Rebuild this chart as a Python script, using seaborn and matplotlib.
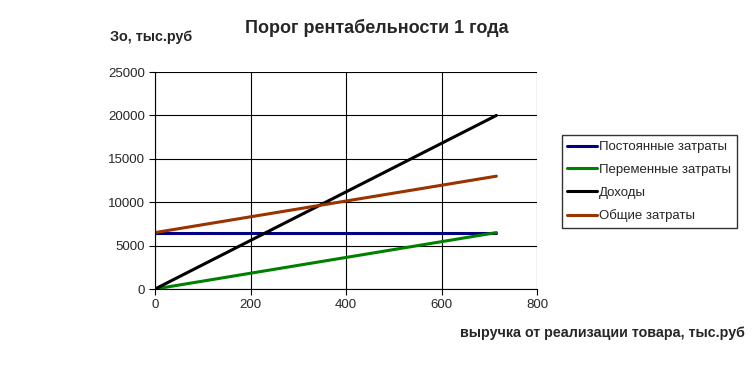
import numpy as np
import matplotlib.pyplot as plt
import seaborn as sns
import pandas as pd

# выручка, тыс.руб
revenue_x = [0, 715]
fixed_costs = [6500, 6500]
variable_costs = [0, 6500]
income = [0, 20000]
total_costs = [6500, 13000]

series_names = ["Постоянные затраты", "Переменные затраты", "Доходы", "Общие затраты"]
series_colors = ["#000080", "#008000", "#000000", "#993300"]

df = pd.concat([
    pd.DataFrame({"x": revenue_x, "y": vals, "series": name})
    for name, vals in zip(series_names, [fixed_costs, variable_costs, income, total_costs])
])

sns.set_style("white")
plt.rcParams['font.family'] = ['Liberation Sans', 'DejaVu Sans']

fig = plt.figure(figsize=(7.54, 3.67), dpi=100)
ax = fig.add_axes([0.2056, 0.2125, 0.5066, 0.5913])

sns.lineplot(data=df, x="x", y="y", hue="series", hue_order=series_names,
             palette=series_colors, linewidth=2.2, ax=ax, legend=False)

ax.set_xlim(0, 800)
ax.set_ylim(0, 25000)
ax.set_xticks(np.arange(0, 801, 200))
ax.set_yticks(np.arange(0, 25001, 5000))
ax.grid(True, color="black", linewidth=0.8)
ax.tick_params(axis="both", direction="out", length=4, width=0.8, color="black",
               labelsize=9.5, pad=3, left=True, bottom=True)
for side in ["top", "right"]:
    ax.spines[side].set_visible(False)
for side in ["left", "bottom"]:
    ax.spines[side].set_color("black")
    ax.spines[side].set_linewidth(0.8)
ax.set_xlabel("")
ax.set_ylabel("")

handles = [plt.Line2D([], [], color=c, linewidth=2.2) for c in series_colors]
fig.legend(handles, series_names, loc="upper left", bbox_to_anchor=(0.736, 0.65),
           frameon=True, fancybox=False, edgecolor="black", fontsize=9.5,
           handlelength=2.2, handletextpad=0.2, labelspacing=0.8, borderpad=0.45)

fig.text(0.5, 0.925, "Порог рентабельности 1 года", ha="center", va="center",
         fontsize=13, fontweight="bold")
fig.text(0.146, 0.898, "Зо, тыс.руб", ha="left", va="center",
         fontsize=10.4, fontweight="bold")
fig.text(0.988, 0.092, "выручка от реализации товара, тыс.руб", ha="right", va="center",
         fontsize=10.3, fontweight="bold")

fig.savefig("out.png", dpi=100)
